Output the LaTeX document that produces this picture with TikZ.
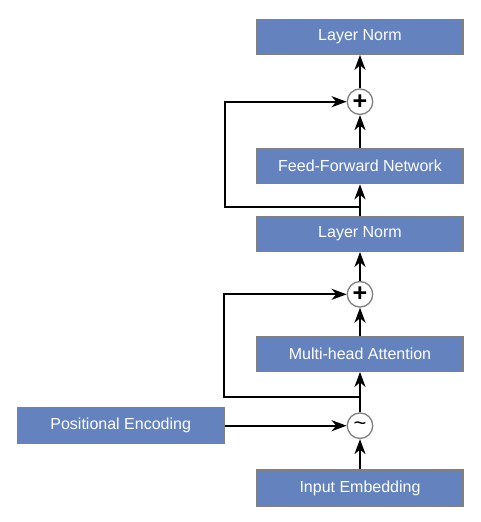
\documentclass[tikz,border=0pt]{standalone}
\usepackage{fontspec}
\setmainfont{Liberation Sans}
\usetikzlibrary{arrows.meta}
\definecolor{boxblue}{RGB}{100,131,190}
\definecolor{boxedge}{RGB}{128,128,128}
\tikzset{
  blk/.style={draw=boxedge, line width=1.2pt, fill=boxblue, text=white,
    minimum width=206pt, minimum height=35pt, inner sep=0pt,
    font=\fontsize{16}{18}\selectfont},
  op/.style={circle, draw=boxedge, line width=1.3pt, fill=white,
    minimum size=25.5pt, inner sep=0pt},
  flow/.style={line width=2.2pt, -{Stealth[length=15pt,width=11pt,inset=4.5pt]}},
  plain/.style={line width=2.2pt}
}
\begin{document}
\begin{tikzpicture}[x=1pt,y=-1pt]
\useasboundingbox (0,0) rectangle (480,522);
\node[blk] (ln1) at (360,36.8) {Layer Norm};
\node[op, font=\fontsize{25}{25}\selectfont\bfseries] (add1) at (360,101.7) {\raisebox{-0.5pt}{+}};
\node[blk] (ffn) at (360,166.2) {Feed-Forward Network};
\node[blk] (ln2) at (360,233.8) {Layer Norm};
\node[op, font=\fontsize{25}{25}\selectfont\bfseries] (add2) at (360,294.3) {\raisebox{-0.5pt}{+}};
\node[blk] (mha) at (360,353.8) {Multi-head Attention};
\node[op, font=\fontsize{22}{22}\selectfont] (mix) at (360,425.7) {\raisebox{-1.5pt}{\textasciitilde}};
\node[blk, minimum width=206.7pt, minimum height=36pt] (pe) at (120.7,425.7) {Positional Encoding};
\node[blk, minimum height=36pt] (ie) at (360,488) {Input Embedding};
\coordinate (b1) at (360,396.7);
\coordinate (b2) at (360,206.7);
\draw[flow] (ie) -- (mix);
\draw[flow] (pe) -- (mix);
\draw[flow] (mix) -- (mha);
\draw[flow] (b1) -- (224,396.7) -- (224,294.3) -- (add2);
\draw[flow] (mha) -- (add2);
\draw[flow] (add2) -- (ln2);
\draw[flow] (ln2) -- (ffn);
\draw[flow] (b2) -- (225,206.7) -- (225,101.7) -- (add1);
\draw[flow] (ffn) -- (add1);
\draw[flow] (add1) -- (ln1);
\end{tikzpicture}
\end{document}
